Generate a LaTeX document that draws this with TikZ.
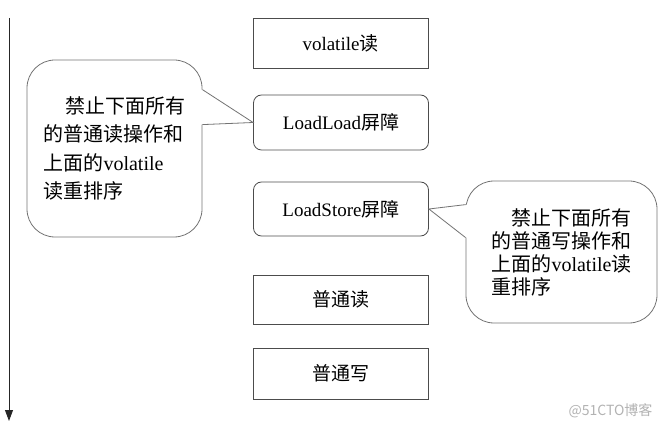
\documentclass[tikz,border=0pt]{standalone}
\usepackage{fontspec}
\setmainfont{Liberation Serif}
\newfontfamily\cjk{Noto Sans CJK SC}
\newcommand{\zh}[1]{{\cjk #1}}
\usetikzlibrary{arrows.meta,calc}
\tikzset{
	box/.style={draw=black!70, line width=.8pt, inner sep=0pt,
		minimum width=175pt, minimum height=#1,
		font=\fontsize{19}{22}\selectfont},
	box/.default=51pt,
	barrier/.style={box=#1, rounded corners=8pt},
	barrier/.default=55pt,
	bubble/.style={draw=black!55, line width=.8pt, inner sep=0pt,
		rounded corners=28pt, align=left},
	pointer/.style={draw=black!55, line width=.8pt},
	timeline/.style={draw=black!85, line width=.9pt,
		-{Triangle[width=8pt,length=11pt]}},
	mark text/.style={text=black!30, font=\cjk\fontsize{14}{16}\selectfont}
}

\begin{document}
\begin{tikzpicture}[x=1pt,y=-1pt]
	\useasboundingbox (0,0) rectangle (661,430);
	% time runs downward
	\coordinate (t0) at (9,18);
	\coordinate (t1) at (9,421);
	\draw[timeline] (t0) -- (t1);

	% instruction sequence
	\node[box=50pt] (vr) at (340.5,43) {volatile\zh{读}};
	\node[barrier] (ll) at (341,122.5) {LoadLoad\zh{屏障}};
	\node[barrier=54pt] (ls) at (341,209) {LoadStore\zh{屏障}};
	\node[box=49pt] (nr) at (340.5,299.5) {\zh{普通读}};
	\node[box] (nw) at (340.5,373.5) {\zh{普通写}};

	% notes
	\node[bubble, minimum width=175pt, minimum height=177pt,
		font=\fontsize{20}{28.5}\selectfont] (lb) at (114.5,148.5)
		{\hspace*{1.1em}\zh{禁止下面所有}\\\zh{的普通读操作和}\\\zh{上面的}volatile\\\zh{读重排序}};
	\node[bubble, minimum width=191pt, minimum height=142pt,
		font=\fontsize{20}{23}\selectfont] (rb) at (561.5,252)
		{\hspace*{1em}\zh{禁止下面所有}\\\zh{的普通写操作和}\\\zh{上面的}volatile\zh{读}\\\zh{重排序}};

	% pointers of the notes
	\fill[white] ($(lb.north east)+(-1.5,30)$) -- ($(lb.north east)+(1.5,30)$) -- (ll.west)
		-- ($(lb.north east)+(1.5,65)$) -- ($(lb.north east)+(-1.5,65)$) -- cycle;
	\draw[pointer] ($(lb.north east)+(0,30)$) -- (ll.west) -- ($(lb.north east)+(0,65)$);
	\fill[white] ($(rb.north west)+(1.5,24)$) -- ($(rb.north west)+(-1.5,24)$) -- (ls.east)
		-- ($(rb.north west)+(-1.5,57)$) -- ($(rb.north west)+(1.5,57)$) -- cycle;
	\draw[pointer] ($(rb.north west)+(0,24)$) -- (ls.east) -- ($(rb.north west)+(0,57)$);

	\node[mark text, anchor=east] (wm) at (656,411) {@51CTO博客};
\end{tikzpicture}
\end{document}
